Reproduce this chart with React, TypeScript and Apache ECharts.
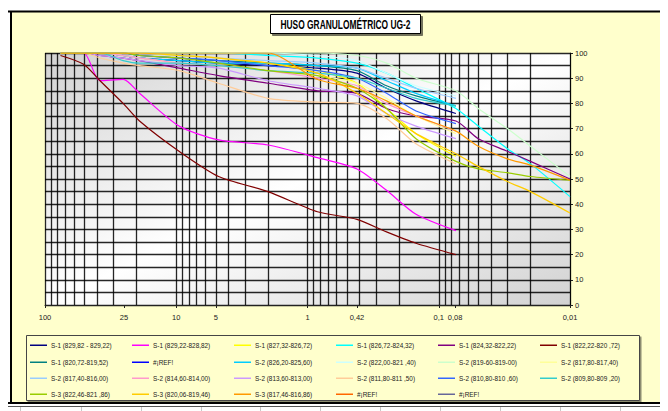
import React, { useEffect, useRef } from 'react';
import * as echarts from 'echarts';

// Particle sizes (mm): sieve analysis, then hydrometer
const SIEVE = [76.2, 50.8, 38.1, 25.4, 19.05, 9.525, 4.76, 2.0, 0.84, 0.42, 0.25, 0.149, 0.074];
const HYDRO = [0.05, 0.03, 0.02, 0.01];

// % passing per series
const S1_A = [100, 100, 100, 99, 98, 97, 96, 95, 94, 92, 86, 81, 76];
const S1_B = [100, 100, 89, 89.5, 84, 71, 65.5, 63.5, 58.5, 54, 45.5, 36, 29.5];
const S1_C = [100, 100, 100, 100, 100, 99, 98, 96, 93, 88, 78, 68, 59];
const S1_D = [100, 100, 100, 100, 100, 100, 100, 99, 98, 96, 92, 86, 78, 71, 62, 56, 43];
const S1_E = [100, 100, 99, 98, 97, 94, 91, 88, 85, 84, 78, 75, 73, 66, 61, 57, 50];
const S1_F = [99, 95.5, 89, 80, 73, 61, 51, 45, 37, 34, 29, 24.5, 20];
const S1_G = [100, 100, 100, 100, 99, 98, 97, 96, 95, 93, 87, 83, 79];
const REF_A: number[] = [];
const S2_A = [100, 100, 100, 99, 98, 97, 96, 96, 95, 94, 89, 84, 79];
const S2_B = [100, 100, 100, 100, 100, 100, 100, 100, 99, 97, 92, 87, 83];
const S2_C = [100, 100, 100, 100, 100, 100, 100, 100, 100, 99, 96, 90, 85, 78, 70, 63, 51];
const S2_D = [100, 100, 100, 99, 98, 96, 95, 93, 91, 88, 82, 75, 68];
const S2_E = [100, 100, 100, 100, 100, 99, 98, 97, 96, 94, 90, 86, 82];
const S2_F = [100, 100, 100, 99, 98, 96, 95, 93, 90, 87, 80, 75, 69];
const S2_G = [100, 100, 99, 98, 97, 95, 94, 89, 86, 83, 76, 71, 66];
const S2_H = [100, 100, 98, 96, 95, 93, 88, 82, 80.5, 80, 74, 64, 56];
const S2_I = [100, 100, 100, 100, 99, 98, 97, 95, 93, 90, 84, 77, 72];
const S2_J = [100, 100, 100, 97, 96, 96, 95, 93, 92, 90, 86, 82, 79];
const S3_A = [100, 100, 100, 100, 99, 98, 96, 93, 91, 86, 78, 66, 57, 54, 52.5, 51, 49.5];
const S3_B = [100, 100, 100, 100, 100, 99, 98, 96, 92, 84, 76, 68, 60, 55, 49, 45, 36.5];
const S3_C = [100, 100, 100, 100, 100, 100, 100, 100, 89.5, 86, 81, 75, 69, 63, 58, 55.5, 49.5];
const REF_B: number[] = [];
const REF_C: number[] = [];

const NAMES = [
  'S-1 (829,82 - 829,22)', 'S-1 (829,22-828,82)', 'S-1 (827,32-826,72)', 'S-1 (826,72-824,32)',
  'S-1 (824,32-822,22)', 'S-1 (822,22-820 ,72)', 'S-1 (820,72-819,52)', '#¡REF!',
  'S-2 (826,20-825,60)', 'S-2 (822,00-821 ,40)', 'S-2 (819-60-819-00)', 'S-2 (817,80-817,40)',
  'S-2 (817,40-816,00)', 'S-2 (814,60-814,00)', 'S-2 (813,60-813,00)', 'S-2 (811,80-811 ,50)',
  'S-2 (810,80-810 ,60)', 'S-2 (809,80-809 ,20)', 'S-3 (822,46-821 ,86)', 'S-3 (820,06-819,46)',
  'S-3 (817,46-816,86)', '#¡REF!', '#¡REF!',
];
const VALUES = [S1_A, S1_B, S1_C, S1_D, S1_E, S1_F, S1_G, REF_A, S2_A, S2_B, S2_C, S2_D, S2_E, S2_F,
  S2_G, S2_H, S2_I, S2_J, S3_A, S3_B, S3_C, REF_B, REF_C];
const COLORS = ['#000080', '#FF00FF', '#FFFF00', '#00FFFF', '#800080', '#800000', '#008080', '#0000FF',
  '#00CCFF', '#CCFFFF', '#CCFFCC', '#FFFF99', '#99CCFF', '#FF99CC', '#CC99FF', '#FFCC99',
  '#3366FF', '#33CCCC', '#99CC00', '#FFCC00', '#FF9900', '#FF6600', '#666699'];

const X_TICKS = [100, 25, 10, 5, 1, 0.42, 0.1, 0.075, 0.01];
const X_TICK_LABELS = ['100', '25', '10', '5', '1', '0,42', '0,1', '0,08', '0,01'];
const TITLE = 'HUSO GRANULOMÉTRICO UG-2';

const FONT = "'Liberation Sans', Arial, sans-serif";
const GRIDC = '#000000';

function points(vals: number[]) {
  const xs = SIEVE.concat(HYDRO);
  return vals.map((v, i) => [xs[i], v]);
}

function tickLabel(v: number) {
  let best = 0;
  let bd = Infinity;
  X_TICKS.forEach((t, i) => {
    const d = Math.abs(Math.log10(t) - Math.log10(v));
    if (d < bd) { bd = d; best = i; }
  });
  return X_TICK_LABELS[best];
}

export default function App() {
  const ref = useRef<HTMLDivElement>(null);
  useEffect(() => {
    const chart = echarts.init(ref.current!, null, { renderer: 'svg' });

    const gridX: number[] = [];
    for (let e = -2; e <= 1; e++) for (let m = 1; m <= 9; m++) gridX.push(Number((m * Math.pow(10, e)).toPrecision(3)));
    gridX.push(100);

    const series: any[] = VALUES.map((vals, i) => ({
      type: 'line',
      name: NAMES[i],
      data: points(vals),
      symbol: 'none',
      smooth: 0.25,
      z: 3,
      color: COLORS[i],
      lineStyle: { color: COLORS[i], width: 1.2 },
      emphasis: { disabled: true },
    }));
    series.push({
      type: 'line',
      name: '__grid',
      data: [],
      silent: true,
      markLine: {
        silent: true,
        z: 1,
        symbol: ['none', 'none'],
        label: { show: false },
        emphasis: { disabled: true },
        lineStyle: { color: GRIDC, width: 1.3, type: 'solid', opacity: 0.85 },
        data: gridX.map((v) => ({ xAxis: v })),
      },
    });

    const colX = [22, 124, 226, 328, 430, 532];
    const rowY = [335, 352, 368, 384];
    const legends = NAMES.map((name, i) => ({
      show: true,
      left: colX[i % 6],
      top: rowY[Math.floor(i / 6)] - 0.75,
      padding: 0,
      icon: 'rect',
      itemWidth: 17,
      itemHeight: 1.5,
      itemGap: 0,
      selectedMode: false,
      z: 6,
      textStyle: { fontFamily: FONT, fontSize: 6.4, color: '#222', padding: [0, 0, 0, -1] },
      data: [{ name, icon: 'rect', itemStyle: { color: COLORS[i], borderWidth: 0 } }],
    }));

    const sepX = [12, 73, 133, 193, 252, 312, 372, 432, 492, 552, 612];

    chart.setOption({
      animation: false,
      backgroundColor: '#FFFFCC',
      grid: {
        left: 37, right: 106, top: 45, bottom: 114,
        show: true,
        borderWidth: 0,
        outerBoundsMode: 'none',
        backgroundColor: new echarts.graphic.LinearGradient(0, 0, 1, 1, [
          { offset: 0, color: '#d2d2d2' },
          { offset: 0.5, color: '#ffffff' },
          { offset: 1, color: '#d2d2d2' },
        ]),
      },
      xAxis: {
        type: 'log', logBase: 10, min: 0.01, max: 100, inverse: true,
        axisLine: { show: true, onZero: false, lineStyle: { color: '#222', width: 1 } },
        axisTick: { show: true, length: 3, customValues: X_TICKS, lineStyle: { color: '#222' } },
        axisLabel: {
          customValues: X_TICKS, fontFamily: FONT, fontSize: 7.5, color: '#222', margin: 8,
          formatter: (v: number) => tickLabel(Number(v)),
        },
        splitLine: { show: false },
        minorSplitLine: { show: false },
      },
      yAxis: {
        type: 'value', position: 'right', min: 0, max: 100, interval: 10,
        axisLine: { show: true, lineStyle: { color: '#222', width: 1 } },
        axisTick: { show: true, inside: false, length: 3, lineStyle: { color: '#222' } },
        axisLabel: { fontFamily: FONT, fontSize: 7.5, color: '#222', margin: 5 },
        splitLine: { show: true, lineStyle: { color: GRIDC, width: 1.3, opacity: 0.85 } },
        minorTick: { show: false, splitNumber: 2 },
        minorSplitLine: { show: true, lineStyle: { color: GRIDC, width: 1.3, opacity: 0.85 } },
      },
      legend: legends,
      tooltip: { show: false },
      graphic: [
        // frame
        { type: 'rect', z: 0, silent: true, shape: { x: 0, y: 0, width: 668, height: 3 }, style: { fill: '#ffffff' } },
        { type: 'rect', z: 0, silent: true, shape: { x: 0, y: 0, width: 2, height: 411 }, style: { fill: '#ffffff' } },
        { type: 'line', z: 1, silent: true, shape: { x1: 0, y1: 3.5, x2: 668, y2: 3.5 }, style: { stroke: '#000', lineWidth: 2 } },
        { type: 'line', z: 1, silent: true, shape: { x1: 3, y1: 3, x2: 3, y2: 396 }, style: { stroke: '#000', lineWidth: 2 } },
        { type: 'rect', z: 0, silent: true, shape: { x: 0, y: 395, width: 668, height: 16 }, style: { fill: '#ffffff' } },
        { type: 'line', z: 1, silent: true, shape: { x1: 0, y1: 395, x2: 668, y2: 395 }, style: { stroke: '#000', lineWidth: 2 } },
        { type: 'line', z: 1, silent: true, shape: { x1: 0, y1: 398.5, x2: 668, y2: 398.5 }, style: { stroke: '#555', lineWidth: 1 } },
        ...sepX.map((x) => ({ type: 'line', z: 1, silent: true, shape: { x1: x + 0.5, y1: 399, x2: x + 0.5, y2: 407 }, style: { stroke: '#c8c8c8', lineWidth: 1 } })),
        { type: 'line', z: 1, silent: true, shape: { x1: 0, y1: 408, x2: 668, y2: 408 }, style: { stroke: '#111', lineWidth: 2 } },
        { type: 'rect', z: 1, silent: true, shape: { x: 125, y: 409, width: 543, height: 2 }, style: { fill: '#4a6670' } },
        // legend box
        {
          type: 'rect', z: 2, silent: true,
          shape: { x: 18.5, y: 327.5, width: 613, height: 65 },
          style: { fill: '#FFFFCC', stroke: '#444', lineWidth: 1, shadowColor: 'rgba(0,0,0,0.45)', shadowOffsetX: 1.5, shadowOffsetY: 1.5, shadowBlur: 0 },
        },
        // title
        {
          type: 'rect', z: 8, silent: true,
          shape: { x: 262.5, y: 6.5, width: 150, height: 19 },
          style: { fill: '#ffffff', stroke: '#000', lineWidth: 1, shadowColor: 'rgba(0,0,0,0.55)', shadowOffsetX: 2, shadowOffsetY: 2, shadowBlur: 0 },
        },
        {
          type: 'text', z: 9, silent: true, x: 337.5, y: 16.5, scaleX: 0.7,
          style: { text: TITLE, x: 0, y: 0, align: 'center', verticalAlign: 'middle', fill: '#000', font: `bold 12px ${FONT}` },
        },
      ],
      series,
    });
    return () => chart.dispose();
  }, []);
  return <div ref={ref} style={{ position: 'fixed', left: 0, top: 0, width: 668, height: 411 }} />;
}
